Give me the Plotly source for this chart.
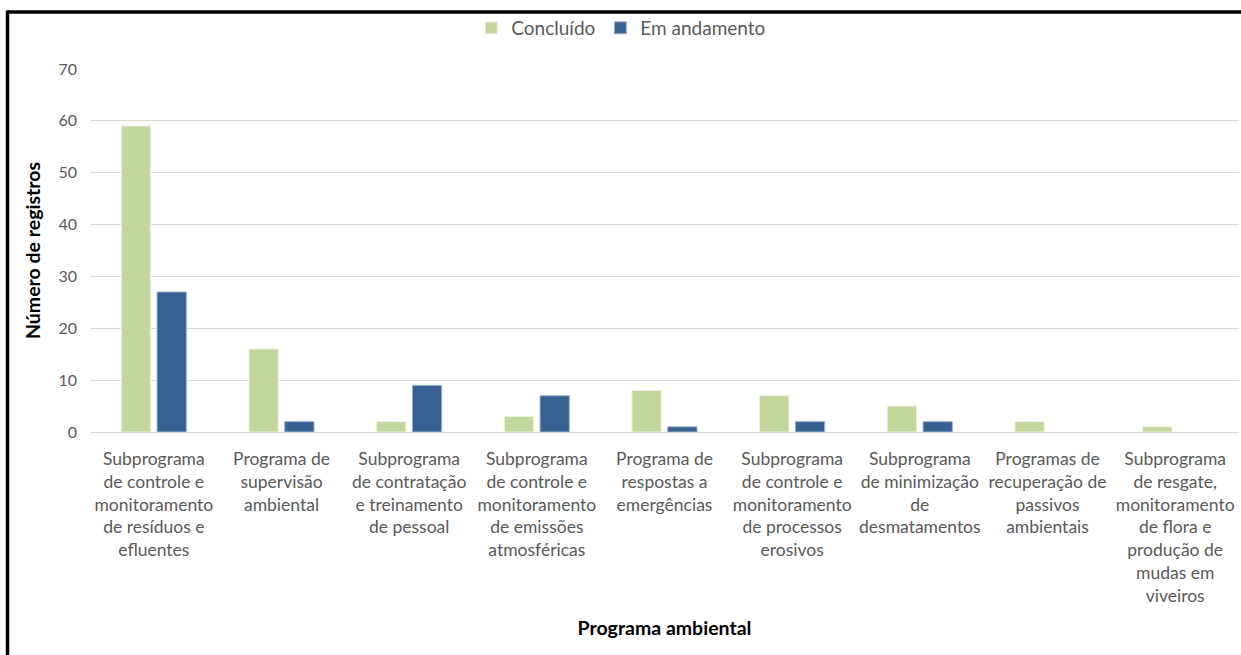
import plotly.graph_objects as go

categories = [
    "Subprograma<br>de controle e<br>monitoramento<br>de resíduos e<br>efluentes",
    "Programa de<br>supervisão<br>ambiental",
    "Subprograma<br>de contratação<br>e treinamento<br>de pessoal",
    "Subprograma<br>de controle e<br>monitoramento<br>de emissões<br>atmosféricas",
    "Programa de<br>respostas a<br>emergências",
    "Subprograma<br>de controle e<br>monitoramento<br>de processos<br>erosivos",
    "Subprograma<br>de minimização<br>de<br>desmatamentos",
    "Programas de<br>recuperação de<br>passivos<br>ambientais",
    "Subprograma<br>de resgate,<br>monitoramento<br>de flora e<br>produção de<br>mudas em<br>viveiros",
]
concluido = [59, 16, 2, 3, 8, 7, 5, 2, 1]
em_andamento = [27, 2, 9, 7, 1, 2, 2, 0, 0]
y_ticks = [0, 10, 20, 30, 40, 50, 60, 70]

W, H = 1241, 655
ML, MR, MT, MB = 90, 2, 69, 223
pw = W - ML - MR
ph = H - MT - MB

FONT = "Lato"
GRAY = "#595959"

def outline_widths(vals):
    return [1 if v > 0 else 0 for v in vals]

fig = go.Figure()
fig.add_trace(go.Bar(name="Concluído", x=categories, y=concluido,
                     marker=dict(color="#C3D69B",
                                 line=dict(color="#EEF3E2", width=outline_widths(concluido)))))
fig.add_trace(go.Bar(name="Em andamento", x=categories, y=em_andamento,
                     marker=dict(color="#376092",
                                 line=dict(color="#9FB3CC", width=outline_widths(em_andamento)))))

def px_x(p):
    return (p - ML) / pw

def px_y(p):
    return (H - MB - p) / ph

fig.update_layout(
    width=W, height=H,
    margin=dict(l=ML, r=MR, t=MT, b=MB),
    paper_bgcolor="white", plot_bgcolor="white",
    barmode="group", bargap=0.44, bargroupgap=0.18,
    font=dict(family=FONT, size=17, color=GRAY),
    legend=dict(orientation="h", x=0.462, xanchor="center", y=px_y(28), yanchor="middle",
                font=dict(family=FONT, size=19, color=GRAY), itemwidth=30,
                bgcolor="rgba(0,0,0,0)", traceorder="normal"),
    xaxis=dict(
        showgrid=False, showline=True, linecolor="#D9D9D9", linewidth=1,
        tickangle=0, tickfont=dict(family=FONT, size=17.5, color=GRAY),
        title=dict(text="<b>Programa ambiental</b>", font=dict(family=FONT, size=19.5, color="black"),
                   standoff=16),
        ticks="", ticklabelstandoff=11,
    ),
    yaxis=dict(
        range=[0, 70], tickvals=y_ticks, showgrid=True, gridcolor="#D9D9D9", gridwidth=1,
        zeroline=False, showline=False,
        tickfont=dict(family=FONT, size=16, color=GRAY), ticklabelstandoff=12,
        title=dict(text="<b>Número de registros</b>", font=dict(family=FONT, size=19.5, color="black"),
                   standoff=12),
    ),
    shapes=[
        dict(type="line", xref="paper", yref="paper", x0=px_x(7.5), x1=px_x(W + 5),
             y0=px_y(12), y1=px_y(12), line=dict(color="black", width=3.5)),
        dict(type="line", xref="paper", yref="paper", x0=px_x(7.5), x1=px_x(7.5),
             y0=px_y(10.5), y1=px_y(H + 5), line=dict(color="black", width=3.5)),
    ],
)

fig.write_html("out.html")
